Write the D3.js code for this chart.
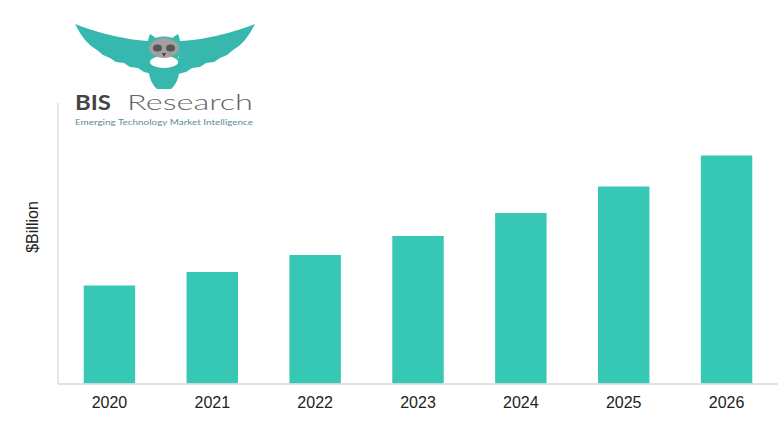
<!DOCTYPE html>
<html>
<head>
<meta charset="utf-8">
<script src="https://cdn.jsdelivr.net/npm/d3@7"></script>
<style>
html,body{margin:0;padding:0;background:#fff;}
svg{display:block;}
</style>
</head>
<body>
<svg id="chart" width="780" height="440"></svg>
<script>
const years = ["2020","2021","2022","2023","2024","2025","2026"];
const values = [9.8, 11.15, 12.85, 14.75, 17.05, 19.7, 22.8];
const yAxisTitle = "$Billion";
const brandBold = "BIS";
const brandLight = "Research";
const tagline = "Emerging Technology Market Intelligence";

const svg = d3.select("#chart");
const margin = {left: 58, right: 2, top: 103, bottom: 56};
const W = 780, H = 440;
const barColor = "#36c8b5";
const owlColor = "#37b8ae";

const x = d3.scaleBand().domain(years)
  .range([margin.left, W - margin.right])
  .paddingInner(0.5).paddingOuter(0.25);
const y = d3.scaleLinear().domain([0, 28.05]).range([H - margin.bottom - 0.5, margin.top]);

// bars
svg.append("g").selectAll("rect").data(years).join("rect")
  .attr("x", d => x(d))
  .attr("width", x.bandwidth())
  .attr("y", (d,i) => y(values[i]))
  .attr("height", (d,i) => y(0) - y(values[i]))
  .attr("fill", barColor);

// axes lines
const base = y(0);
svg.append("line").attr("x1", margin.left).attr("x2", W - 2)
  .attr("y1", base + 0.5).attr("y2", base + 0.5)
  .attr("stroke", "#d9d9d9").attr("stroke-width", 1.5);
svg.append("line").attr("x1", margin.left).attr("x2", margin.left)
  .attr("y1", margin.top).attr("y2", base + 1)
  .attr("stroke", "#d9d9d9").attr("stroke-width", 1.2);

// x axis labels
const xAxis = d3.axisBottom(x).tickSize(0).tickPadding(13);
const gx = svg.append("g").attr("transform", `translate(0,${base})`).call(xAxis);
gx.select(".domain").remove();
gx.selectAll("text")
  .attr("font-family", "Liberation Sans, Arial, sans-serif")
  .attr("font-size", 16).attr("fill", "#222");

// y title
svg.append("text")
  .attr("transform", "translate(38,227) rotate(-90)")
  .attr("text-anchor", "middle")
  .attr("font-family", "Liberation Sans, Arial, sans-serif")
  .attr("font-size", 16).attr("fill", "#222")
  .text(yAxisTitle);

// logo
const logo = svg.append("g");
const wing = "M75,24 C92,31 124,40 150,41 L152,74 L144,72 L138,68 L130,67 L124,63 L116,62 L110,58 L103,55 L97,50 L91,46 L85,40 L80,33 Z";
logo.append("path").attr("d", wing).attr("fill", owlColor);
logo.append("path").attr("d", wing).attr("fill", owlColor)
  .attr("transform", "translate(330,0) scale(-1,1)");
// body
logo.append("path")
  .attr("d", "M149,58 C147,74 151,84 157,89 L171,89 C177,84 181,74 179,58 Z")
  .attr("fill", owlColor);
// head with ears
logo.append("path")
  .attr("d", "M150,34 L156,38 C161,36 167,36 172,38 L178,34 C181,41 181,50 179,56 C176,64 152,64 149,56 C147,50 147,41 150,34 Z")
  .attr("fill", owlColor);
// white belly
logo.append("ellipse").attr("cx", 164).attr("cy", 62).attr("rx", 14).attr("ry", 6).attr("fill", "#fff");
// face
logo.append("ellipse").attr("cx", 164).attr("cy", 48).attr("rx", 15).attr("ry", 10).attr("fill", "#a0a0a0");
logo.append("ellipse").attr("cx", 157.5).attr("cy", 48).attr("rx", 4.5).attr("ry", 3.5).attr("fill", "#555");
logo.append("ellipse").attr("cx", 170.5).attr("cy", 48).attr("rx", 4.5).attr("ry", 3.5).attr("fill", "#555");
logo.append("path").attr("d", "M162,53 L166,53 L164,57 Z").attr("fill", "#444");

logo.append("text").attr("x", 75).attr("y", 110)
  .attr("font-family", "Lato, 'Open Sans', sans-serif").attr("font-weight", 700)
  .attr("font-size", 21).attr("fill", "#454545")
  .attr("textLength", 36).attr("lengthAdjust", "spacingAndGlyphs")
  .text(brandBold);
logo.append("text").attr("x", 127).attr("y", 110)
  .attr("font-family", "Lato, 'Open Sans', sans-serif").attr("font-weight", 300)
  .attr("font-size", 21).attr("fill", "#666")
  .attr("textLength", 126).attr("lengthAdjust", "spacingAndGlyphs")
  .text(brandLight);
logo.append("text").attr("x", 75).attr("y", 125)
  .attr("font-family", "Lato, 'Open Sans', sans-serif")
  .attr("font-size", 8).attr("fill", "#5b8e98")
  .attr("textLength", 178).attr("lengthAdjust", "spacingAndGlyphs")
  .text(tagline);
</script>
</body>
</html>
